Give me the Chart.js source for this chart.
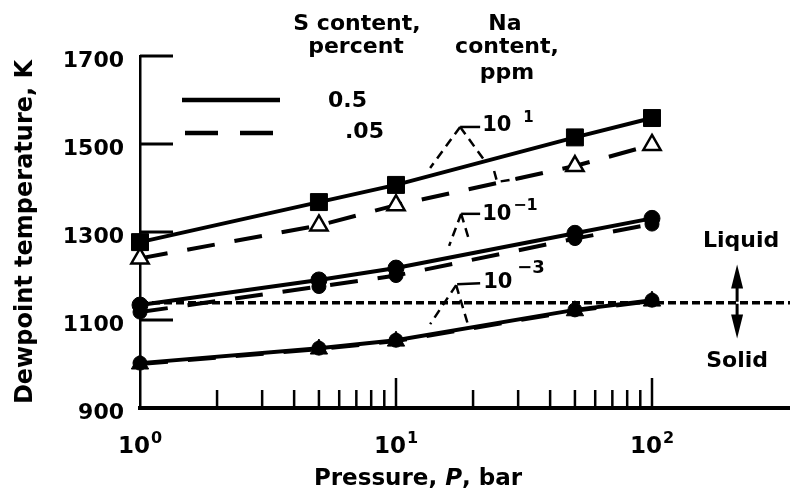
<!DOCTYPE html>
<html>
<head>
<meta charset="utf-8">
<script src="https://cdn.jsdelivr.net/npm/chart.js@4"></script>
<style>
  html, body { margin: 0; padding: 0; background: #fff; }
  #wrap { width: 790px; height: 491px; position: relative; }
</style>
</head>
<body>
<div id="wrap"><canvas id="dewChart"></canvas></div>
<script>
// pressures (bar) where dewpoints were computed
const pressures = [1, 5, 10, 50, 100];

// dewpoint temperature, K  (Na content / S content)
const na10S05 = [1277, 1368, 1407, 1515, 1559];   // 10^1 ppm, 0.5 %
const na10S005 = [1240, 1315, 1361, 1450, 1498];  // 10^1 ppm, .05 %
const na01S05 = [1134, 1191, 1218, 1297, 1331];   // 10^-1 ppm, 0.5 %
const na01S005 = [1118, 1176, 1201, 1285, 1318];  // 10^-1 ppm, .05 %
const na001S05 = [1002, 1036, 1054, 1123, 1145];  // 10^-3 ppm, 0.5 %
const na001S005 = [1000, 1034, 1052, 1121, 1143]; // 10^-3 ppm, .05 %

// liquid / solid boundary
const liquidusTemp = 1139;

// axes
const yTickValues = [900, 1100, 1300, 1500, 1700];
const xMinorTicks = [2, 3, 4, 5, 6, 7, 8, 9, 10, 20, 30, 40, 50, 60, 70, 80, 90, 100];
const xDecades = [1, 10, 100];
const xExponents = ['0', '1', '2'];

// curve labels (Na content, ppm), anchored in data space
const naLabels = [
  { x: 21.7, y: 1541, sup: '1', supDx: 41, supDy: -8, supSize: 15,
    solid: [[[-22, 1], [-2, 1]]],
    dashed: [[[-22, 1], [-52, 42]], [[-22, 1], [2, 34]], [[12, 45], [15, 56], [46, 51]]] },
  { x: 21.7, y: 1339, sup: '\u22121', supDx: 31, supDy: -9, supSize: 16,
    solid: [[[-21, -1], [-2, -1]]],
    dashed: [[[-21, -1], [-33, 31]], [[-21, -1], [-14, 22]]] },
  { x: 21.9, y: 1186, sup: '\u22123', supDx: 34, supDy: -14, supSize: 18,
    solid: [[[-26, 2], [-3, 1]]],
    dashed: [[[-27, 3], [-53, 42]], [[-27, 3], [-15, 43]]] }
];

// phase annotation position (data space)
const phaseX = 215;
const liquidLabelY = 1280;
const solidLabelY = 1007;
const arrowTopY = 1226;
const arrowBottomY = 1058;

const FONT = "'DejaVu Sans', 'Liberation Sans', sans-serif";

function pts(values) {
  return pressures.map((p, i) => ({ x: p, y: values[i] }));
}

function drawPath(ctx, ax, ay, path) {
  ctx.beginPath();
  path.forEach((p, i) => {
    if (i === 0) ctx.moveTo(ax + p[0], ay + p[1]);
    else ctx.lineTo(ax + p[0], ay + p[1]);
  });
  ctx.stroke();
}

const decorPlugin = {
  id: 'dewDecor',
  beforeDatasetsDraw(chart) {
    const { ctx, chartArea, scales: { x, y } } = chart;
    ctx.save();
    ctx.strokeStyle = '#000';

    // inward ticks on the temperature axis
    ctx.lineWidth = 3;
    yTickValues.forEach(v => {
      if (v === yTickValues[0]) return;
      const py = y.getPixelForValue(v);
      ctx.beginPath();
      ctx.moveTo(chartArea.left, py);
      ctx.lineTo(chartArea.left + 33, py);
      ctx.stroke();
    });

    // inward ticks on the pressure axis
    ctx.lineWidth = 2.5;
    xMinorTicks.forEach(v => {
      const px = x.getPixelForValue(v);
      const len = xDecades.includes(v) ? 30 : 18;
      ctx.beginPath();
      ctx.moveTo(px, chartArea.bottom);
      ctx.lineTo(px, chartArea.bottom - len);
      ctx.stroke();
    });
    ctx.restore();
  },
  afterDraw(chart) {
    const { ctx, scales: { x, y } } = chart;
    ctx.save();
    ctx.fillStyle = '#000';
    ctx.strokeStyle = '#000';
    ctx.textBaseline = 'alphabetic';

    // pressure tick labels 10^n
    xDecades.forEach((v, i) => {
      const px = x.getPixelForValue(v);
      ctx.font = 'bold 23px ' + FONT;
      const wBase = ctx.measureText('10').width;
      ctx.font = 'bold 16px ' + FONT;
      const wSup = ctx.measureText(xExponents[i]).width;
      const left = px - (wBase + wSup + 1) / 2;
      ctx.font = 'bold 23px ' + FONT;
      ctx.textAlign = 'left';
      ctx.fillText('10', left, 453);
      ctx.font = 'bold 16px ' + FONT;
      ctx.fillText(xExponents[i], left + wBase + 1, 443);
    });

    // x title with italic P
    const parts = [
      { t: 'Pressure, ', f: 'bold 23px ' + FONT },
      { t: 'P', f: 'italic bold 23px ' + FONT },
      { t: ', bar', f: 'bold 23px ' + FONT }
    ];
    let total = 0;
    parts.forEach(p => { ctx.font = p.f; p.w = ctx.measureText(p.t).width; total += p.w; });
    let cx = 418 - total / 2;
    ctx.textBaseline = 'middle';
    parts.forEach(p => { ctx.font = p.f; ctx.fillText(p.t, cx, 479); cx += p.w; });

    // column headers
    ctx.font = 'bold 22px ' + FONT;
    ctx.textAlign = 'center';
    ctx.fillText('S content,', 357, 24);
    ctx.fillText('percent', 356, 47);
    ctx.fillText('Na', 505, 24);
    ctx.fillText('content,', 507, 47);
    ctx.fillText('ppm', 507, 73);

    // line-style key
    ctx.lineWidth = 4.5;
    ctx.beginPath();
    ctx.moveTo(182, 100);
    ctx.lineTo(280, 100);
    ctx.stroke();
    ctx.setLineDash([33, 22]);
    ctx.beginPath();
    ctx.moveTo(185, 133);
    ctx.lineTo(280, 133);
    ctx.stroke();
    ctx.setLineDash([]);
    ctx.textAlign = 'left';
    ctx.fillText('0.5', 328, 101);
    ctx.fillText('.05', 345, 132);

    // Na content labels with leaders
    naLabels.forEach(lb => {
      const ax = x.getPixelForValue(lb.x);
      const ay = y.getPixelForValue(lb.y);
      ctx.font = 'bold 21px ' + FONT;
      ctx.textAlign = 'left';
      ctx.fillText('10', ax, ay);
      ctx.font = 'bold ' + lb.supSize + 'px ' + FONT;
      ctx.fillText(lb.sup, ax + lb.supDx, ay + lb.supDy);
      ctx.lineWidth = 2.5;
      lb.solid.forEach(path => drawPath(ctx, ax, ay, path));
      ctx.setLineDash([9, 6]);
      lb.dashed.forEach(path => drawPath(ctx, ax, ay, path));
      ctx.setLineDash([]);
    });

    // Liquid / Solid with arrows
    const phx = x.getPixelForValue(phaseX);
    const pyMid = y.getPixelForValue(liquidusTemp);
    const pyTop = y.getPixelForValue(arrowTopY);
    const pyBot = y.getPixelForValue(arrowBottomY);
    ctx.font = 'bold 22px ' + FONT;
    ctx.textAlign = 'center';
    ctx.fillText('Liquid', phx + 4, y.getPixelForValue(liquidLabelY));
    ctx.fillText('Solid', phx, y.getPixelForValue(solidLabelY));
    ctx.lineWidth = 3;
    ctx.beginPath();
    ctx.moveTo(phx, pyMid - 1);
    ctx.lineTo(phx, pyTop + 10);
    ctx.moveTo(phx, pyMid + 1);
    ctx.lineTo(phx, pyBot - 10);
    ctx.stroke();
    ctx.beginPath();
    ctx.moveTo(phx, pyTop);
    ctx.lineTo(phx - 6, pyTop + 24);
    ctx.lineTo(phx + 6, pyTop + 24);
    ctx.closePath();
    ctx.moveTo(phx, pyBot);
    ctx.lineTo(phx - 6, pyBot - 24);
    ctx.lineTo(phx + 6, pyBot - 24);
    ctx.closePath();
    ctx.fill();

    ctx.restore();
  }
};

const solidLine = { borderColor: '#000', borderWidth: 4, fill: false, tension: 0, clip: false };
const dashedLine = { borderColor: '#000', borderWidth: 4, borderDash: [28, 20], fill: false, tension: 0, clip: false };

new Chart(document.getElementById('dewChart'), {
  type: 'line',
  data: {
    datasets: [
      { ...solidLine, label: '10^1 ppm, 0.5%', data: pts(na10S05),
        pointStyle: 'rect', pointRadius: 12, pointBackgroundColor: '#000', pointBorderColor: '#000', pointBorderWidth: 1 },
      { ...solidLine, label: '10^-1 ppm, 0.5%', data: pts(na01S05),
        pointStyle: 'circle', pointRadius: 8, pointBackgroundColor: '#000', pointBorderColor: '#000', pointBorderWidth: 1 },
      { ...solidLine, label: '10^-3 ppm, 0.5%', data: pts(na001S05),
        pointStyle: 'circle', pointRadius: 7, pointBackgroundColor: '#000', pointBorderColor: '#000', pointBorderWidth: 1 },
      { ...dashedLine, label: '10^1 ppm, .05%', data: pts(na10S005),
        pointStyle: 'triangle', pointRadius: 10, pointBackgroundColor: '#fff', pointBorderColor: '#000', pointBorderWidth: 2.5 },
      { ...dashedLine, label: '10^-1 ppm, .05%', data: pts(na01S005),
        pointStyle: 'circle', pointRadius: 7, pointBackgroundColor: '#000', pointBorderColor: '#000', pointBorderWidth: 1 },
      { ...dashedLine, label: '10^-3 ppm, .05%', data: pts(na001S005),
        pointStyle: 'triangle', pointRadius: 10, pointBackgroundColor: '#000', pointBorderColor: '#000', pointBorderWidth: 1 },
      { label: 'liquidus', data: [{ x: 1, y: liquidusTemp }, { x: 346, y: liquidusTemp }],
        borderColor: '#000', borderWidth: 3.5, borderDash: [8, 4], pointRadius: 0, fill: false, clip: false }
    ]
  },
  options: {
    responsive: true,
    maintainAspectRatio: false,
    animation: false,
    layout: { autoPadding: false, padding: { top: 56, left: 0, right: 0, bottom: 0 } },
    plugins: {
      legend: { display: false },
      tooltip: { enabled: false }
    },
    scales: {
      x: {
        type: 'logarithmic',
        min: 1,
        max: 346,
        afterBuildTicks: scale => { scale.ticks = xMinorTicks.map(v => ({ value: v })); },
        afterFit: scale => { scale.height = 83; },
        grid: { display: false },
        border: { display: true, color: '#000', width: 4 },
        ticks: { display: false }
      },
      y: {
        min: 900,
        max: 1700,
        afterBuildTicks: scale => { scale.ticks = yTickValues.map(v => ({ value: v })); },
        afterFit: scale => { scale.width = 140; },
        grid: { display: false },
        border: { display: true, color: '#000', width: 2.5 },
        ticks: {
          color: '#000',
          padding: 8,
          labelOffset: 5,
          callback: v => String(v),
          font: { family: FONT, size: 22, weight: 'bold' }
        },
        title: {
          display: true,
          text: 'Dewpoint temperature, K',
          color: '#000',
          padding: { top: 11, bottom: 0 },
          font: { family: FONT, size: 24, weight: 'bold' }
        }
      }
    }
  },
  plugins: [decorPlugin]
});
</script>
</body>
</html>
